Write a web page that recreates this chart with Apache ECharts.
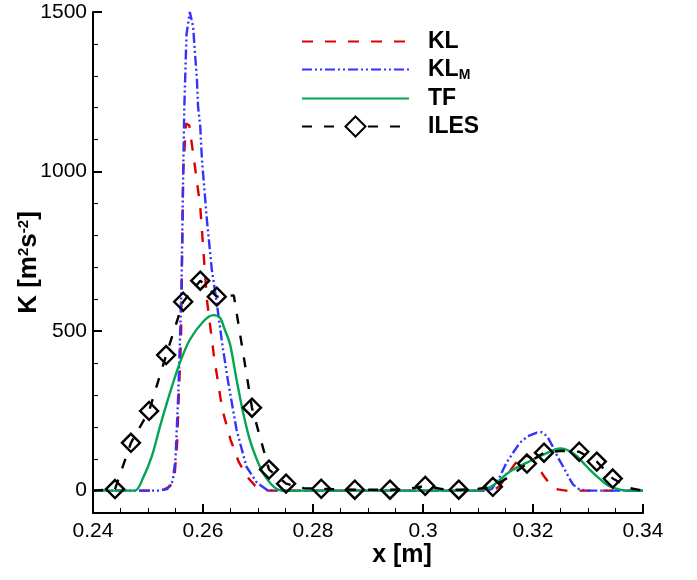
<!DOCTYPE html>
<html>
<head>
<meta charset="utf-8">
<script src="https://cdn.jsdelivr.net/npm/echarts@6/dist/echarts.min.js"></script>
<style>
  html, body { margin: 0; padding: 0; background: #fff; }
  #chart { width: 697px; height: 580px; }
</style>
</head>
<body>
<div id="chart"></div>
<script>
// KL
var klX = [0.2400, 0.2500, 0.2530, 0.2540, 0.2548, 0.2553, 0.2556, 0.2560, 0.2564, 0.2569, 0.2575, 0.2585, 0.2595, 0.2607, 0.2620, 0.2635, 0.2650, 0.2665, 0.2680, 0.2695, 0.2705, 0.2720,
           0.3120, 0.3130, 0.3140, 0.3155, 0.3170, 0.3185, 0.3195, 0.3207, 0.3220, 0.3232, 0.3245, 0.3260, 0.3400];
var klY = [0, 0, 4, 14, 40, 150, 300, 470, 1000, 1150, 1145, 1020, 890, 600, 420, 255, 160, 90, 44, 15, 5, 0,
           0, 3, 15, 55, 90, 110, 105, 80, 45, 18, 4, 0, 0];

// KL_M
var klmX = [0.2400, 0.2520, 0.2535, 0.2545, 0.2550, 0.2555, 0.2558, 0.2561, 0.2564, 0.2566, 0.2570, 0.2576, 0.2582, 0.2585, 0.2589, 0.2591, 0.2595, 0.2598, 0.2607, 0.2616, 0.2625, 0.2635, 0.2645, 0.2661, 0.2679, 0.2698, 0.2716, 0.2730,
            0.3110, 0.3125, 0.3140, 0.3152, 0.3165, 0.3176, 0.3190, 0.3207, 0.3216, 0.3226, 0.3236, 0.3245, 0.3255, 0.3265, 0.3273, 0.3285, 0.3300, 0.3400];
var klmY = [0, 0, 5, 30, 100, 300, 470, 650, 1000, 1200, 1430, 1500, 1455, 1382, 1288, 1204, 1141, 1040, 850, 693, 589, 460, 348, 191, 75, 25, 3, 0,
            0, 5, 45, 88, 122, 150, 170, 182, 183, 170, 138, 105, 75, 42, 19, 3, 0, 0];

// TF
var tfX = [0.2400, 0.2476, 0.2491, 0.2507, 0.2522, 0.2540, 0.2558, 0.2576, 0.2601, 0.2619, 0.2631, 0.2638, 0.2649, 0.2661, 0.2673, 0.2685, 0.2698, 0.2713, 0.2734, 0.2751,
           0.3100, 0.3110, 0.3127, 0.3158, 0.3189, 0.3219, 0.3250, 0.3258, 0.3267, 0.3280, 0.3291, 0.3303, 0.3316, 0.3328, 0.3340, 0.3358, 0.3370, 0.3400];
var tfY = [0, 0, 40, 108, 202, 307, 401, 473, 531, 550, 542, 512, 460, 348, 244, 160, 97, 45, 5, 0,
           0, 3, 16, 60, 88, 113, 132, 130, 123, 108, 88, 66, 45, 27, 13, 3, 0, 0];

// ILES (mark = 1 where a diamond is drawn)
var ilesX = [0.2400, 0.2440, 0.2469, 0.2502, 0.2533, 0.2564, 0.2595, 0.2625, 0.2656, 0.2689, 0.2720, 0.2751, 0.2783, 0.2815, 0.2845, 0.2876, 0.2908, 0.2940, 0.2972, 0.3004, 0.3035, 0.3065, 0.3096, 0.3127, 0.3158, 0.3189, 0.3220, 0.3252, 0.3284, 0.3316, 0.3345, 0.3376, 0.3400];
var ilesY = [0, 5, 150, 250, 425, 592, 658, 608, 612, 260, 66, 22, 8, 6, 4, 3, 3, 3, 5, 15, 5, 3, 5, 12, 45, 85, 119, 125, 122, 91, 38, 8, 0];
var ilesMark = [0, 1, 1, 1, 1, 1, 1, 1, 0, 1, 1, 1, 0, 1, 0, 1, 0, 1, 0, 1, 0, 1, 0, 1, 0, 1, 1, 0, 1, 1, 1, 0, 0];

var yMajor = [0, 500, 1000, 1500];

function pairs(xs, ys) {
    var out = [];
    for (var i = 0; i < xs.length; i++) out.push([xs[i], ys[i]]);
    return out;
}

var ilesData = [];
for (var i = 0; i < ilesX.length; i++) {
    if (ilesMark[i]) ilesData.push([ilesX[i], ilesY[i]]);
    else ilesData.push({value: [ilesX[i], ilesY[i]], symbol: 'none'});
}

var FONT = 'Liberation Sans, Arial, sans-serif';
var noSymbol = {color: 'rgba(0,0,0,0)', borderWidth: 0};

var chart = echarts.init(document.getElementById('chart'));
var option = {
    backgroundColor: '#fff',
    animation: false,
    grid: {left: 93, right: 54, top: 12, bottom: 67, containLabel: false, outerBoundsMode: 'none'},
    legend: {
        orient: 'vertical',
        left: 301,
        top: 30,
        padding: 0,
        itemWidth: 107,
        itemHeight: 25,
        itemGap: 5,
        data: [
            {name: 'KL', itemStyle: noSymbol},
            {name: 'KLM', itemStyle: noSymbol},
            {name: 'TF', itemStyle: noSymbol},
            {name: 'ILES', itemStyle: {color: '#fff', borderColor: '#000', borderWidth: 2}}
        ],
        formatter: function (name) {
            if (name === 'KLM') return '{b|KL}{s|M}';
            return '{b|' + name + '}';
        },
        textStyle: {
            padding: [0, 0, 0, 14],
            rich: {
                b: {fontFamily: FONT, fontWeight: 'bold', fontSize: 23, color: '#000'},
                s: {fontFamily: FONT, fontWeight: 'bold', fontSize: 14, color: '#000', verticalAlign: 'bottom', padding: [11, 0, 0, 0]}
            }
        }
    },
    xAxis: {
        type: 'value',
        min: 0.24,
        max: 0.34,
        interval: 0.02,
        name: 'x [m]',
        nameLocation: 'middle',
        nameGap: 30,
        nameMoveOverlap: false,
        nameTextStyle: {fontFamily: FONT, fontWeight: 'bold', fontSize: 25, color: '#000', padding: [0, 0, 0, 68]},
        axisLine: {show: true, onZero: false, lineStyle: {color: '#000', width: 2}},
        axisTick: {show: true, inside: true, length: 9, lineStyle: {color: '#000', width: 2}},
        minorTick: {show: true, splitNumber: 4, length: 5, lineStyle: {color: '#000', width: 1}},
        axisLabel: {fontFamily: FONT, fontSize: 21, color: '#000', margin: 8},
        splitLine: {show: false}
    },
    yAxis: [
        {
            type: 'value',
            min: -70,
            max: 1500,
            name: 'K [m{sup|2}s{sup|-2}]',
            nameLocation: 'middle',
            nameGap: 51,
            nameMoveOverlap: false,
            nameTextStyle: {
                fontFamily: FONT, fontWeight: 'bold', fontSize: 26, color: '#000',
                rich: {
                    sup: {fontFamily: FONT, fontWeight: 'bold', fontSize: 15, color: '#000', verticalAlign: 'top', padding: [0, 0, 10, 0]}
                }
            },
            axisLine: {show: true, onZero: false, lineStyle: {color: '#000', width: 2}},
            axisTick: {show: true, inside: true, length: 9, customValues: yMajor, lineStyle: {color: '#000', width: 2}},
            axisLabel: {
                fontFamily: FONT, fontSize: 21, color: '#000', margin: 6, customValues: yMajor,
                formatter: function (v) { return String(v); }
            },
            splitLine: {show: false}
        },
        {
            // minor ticks every 100
            type: 'value',
            min: -70,
            max: 1500,
            splitNumber: 16,
            position: 'left',
            axisLine: {show: false, onZero: false},
            axisTick: {show: true, inside: true, length: 5, lineStyle: {color: '#000', width: 1}},
            axisLabel: {show: false},
            splitLine: {show: false}
        }
    ],
    series: [
        {
            name: 'KL', type: 'line', symbol: 'none', data: pairs(klX, klY),
            lineStyle: {color: '#dd0000', width: 2.4, type: [11, 12]},
            itemStyle: {color: '#dd0000'}, z: 3
        },
        {
            name: 'KLM', type: 'line', symbol: 'none', data: pairs(klmX, klmY),
            lineStyle: {color: '#3333ff', width: 2.4, type: [10, 3, 2, 3, 2, 3]},
            itemStyle: {color: '#3333ff'}, z: 4
        },
        {
            name: 'TF', type: 'line', symbol: 'none', smooth: 0.3, data: pairs(tfX, tfY),
            lineStyle: {color: '#00a651', width: 2.4},
            itemStyle: {color: '#00a651'}, z: 5
        },
        {
            name: 'ILES', type: 'line', symbol: 'diamond', symbolSize: 18, data: ilesData,
            lineStyle: {color: '#000', width: 2.4, type: [10, 12]},
            itemStyle: {color: 'rgba(0,0,0,0)', borderColor: '#000', borderWidth: 2.4}, z: 6
        }
    ]
};
chart.setOption(option);
</script>
</body>
</html>
